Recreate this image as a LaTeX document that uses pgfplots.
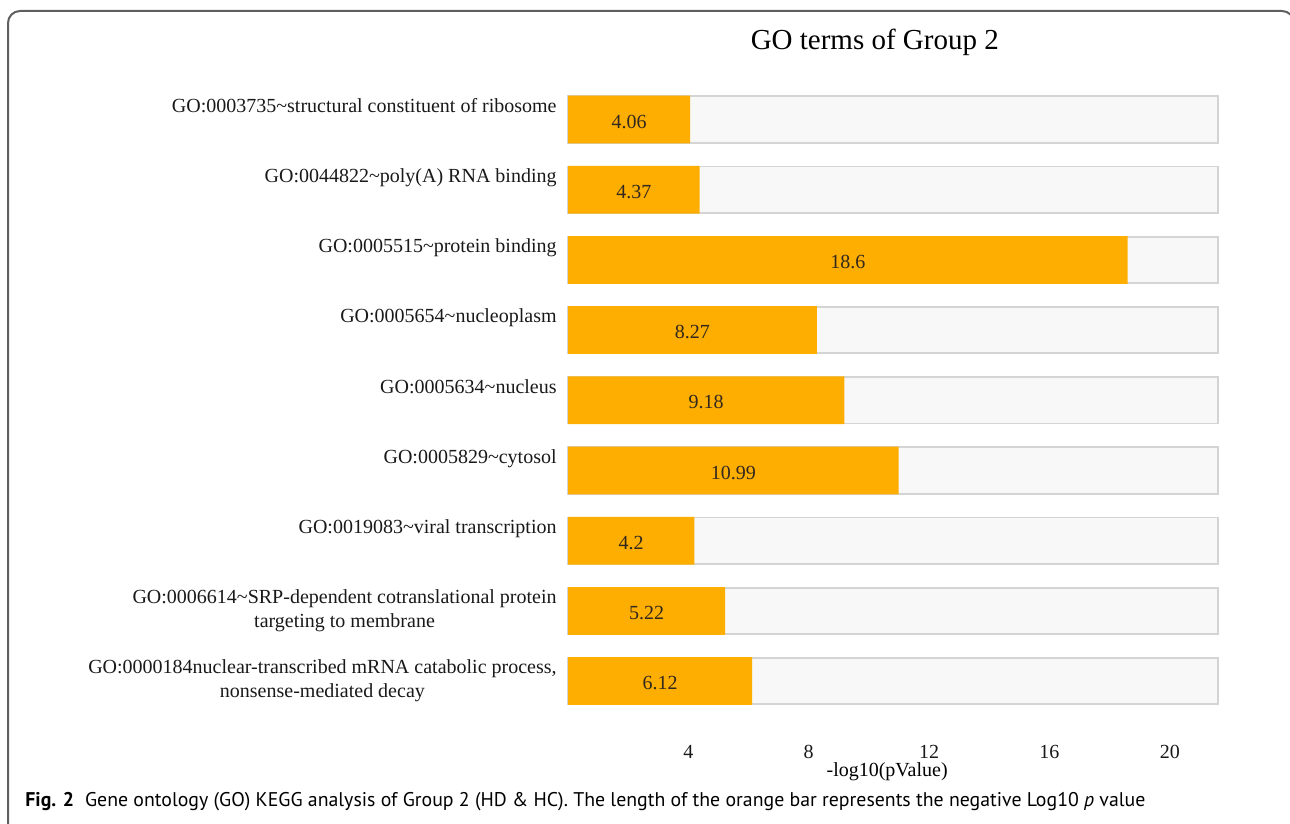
\documentclass[border=0pt]{standalone}
\usepackage{fontspec}
\setmainfont{Liberation Serif}
\newfontfamily\capfont{PT Sans}
\usepackage{pgfplots}
\usepackage{pgfplotstable}
\pgfplotsset{compat=1.18}
\definecolor{barorange}{RGB}{254,174,0}
\definecolor{bgfill}{RGB}{248,248,248}
\definecolor{bgedge}{RGB}{212,212,212}
\definecolor{framegray}{RGB}{95,95,95}
\definecolor{valtext}{RGB}{50,40,30}

\pgfplotstableread{
y v lab
1 4.06 4.06
2 4.37 4.37
3 18.6 18.6
4 8.27 8.27
5 9.18 9.18
6 10.99 10.99
7 4.2 4.2
8 5.22 5.22
9 6.12 6.12
}\godata

\begin{document}
\begin{tikzpicture}
\useasboundingbox (0,0) rectangle (645pt,412pt);
\draw[framegray, line width=1pt, rounded corners=6pt] (4pt,-6pt) rectangle (647pt,406.5pt);
\begin{axis}[
  at={(284pt,53.9pt)}, anchor=south west,
  scale only axis, width=325pt, height=315.9pt,
  xmin=0, xmax=21.6, ymin=0.5, ymax=9.5, y dir=reverse,
  axis line style={draw=none},
  major tick length=0pt,
  xtick={4,8,12,16,20},
  ytick={1,2,3,4,5,6,7,8,9},
  yticklabels={
    {\strut GO:0003735\textasciitilde structural constituent of ribosome\\\strut},
    {\strut GO:0044822\textasciitilde poly(A) RNA binding\\\strut},
    {\strut GO:0005515\textasciitilde protein binding\\\strut},
    {\strut GO:0005654\textasciitilde nucleoplasm\\\strut},
    {\strut GO:0005634\textasciitilde nucleus\\\strut},
    {\strut GO:0005829\textasciitilde cytosol\\\strut},
    {\strut GO:0019083\textasciitilde viral transcription\\\strut},
    {\strut GO:0006614\textasciitilde SRP-dependent cotranslational protein\\\strut targeting to membrane},
    {\strut GO:0000184nuclear-transcribed mRNA catabolic process,\\\strut nonsense-mediated decay}
  },
  font=\fontsize{10}{12}\selectfont,
  /pgf/number format/assume math mode=true,
  xticklabel style={anchor=north, inner sep=0pt, yshift=-14.5pt, text=black!90},
  yticklabel style={anchor=east, inner sep=0pt, xshift=-5.5pt, align=center, text=black!90},
  title={GO terms of Group 2},
  every axis title/.style={at={(axis description cs:0.472,1.056)}, anchor=base, font=\fontsize{14.5}{17}\selectfont, inner sep=0pt},
  xlabel={-log10(pValue)},
  xlabel style={at={(axis description cs:0.491,-0.0947)}, anchor=base, inner sep=0pt},
  clip=false,
]
\addplot[xbar, bar shift=0pt, bar width=0.66, fill=bgfill, draw=bgedge, line width=0.9pt]
  coordinates {(21.6,1) (21.6,2) (21.6,3) (21.6,4) (21.6,5) (21.6,6) (21.6,7) (21.6,8) (21.6,9)};
\addplot[xbar, bar shift=0pt, bar width=0.68, fill=barorange, draw=none]
  table[x=v, y=y] \godata;
\addplot[draw=none, mark=none, point meta=explicit symbolic, nodes near coords,
  nodes near coords style={anchor=center, yshift=-1pt, text=valtext, font=\fontsize{10}{12}\selectfont}]
  table[x expr=\thisrow{v}/2, y=y, meta=lab] \godata;
\end{axis}
\node[anchor=base west, inner sep=0pt] at (12.5pt,8.6pt) {\resizebox{560pt}{!}{\capfont\fontsize{10}{12}\selectfont\textbf{Fig. 2}\hspace{0.55em}Gene ontology (GO) KEGG analysis of Group 2 (HD \& HC). The length of the orange bar represents the negative Log10 \textit{p} value}};
\end{tikzpicture}
\end{document}
